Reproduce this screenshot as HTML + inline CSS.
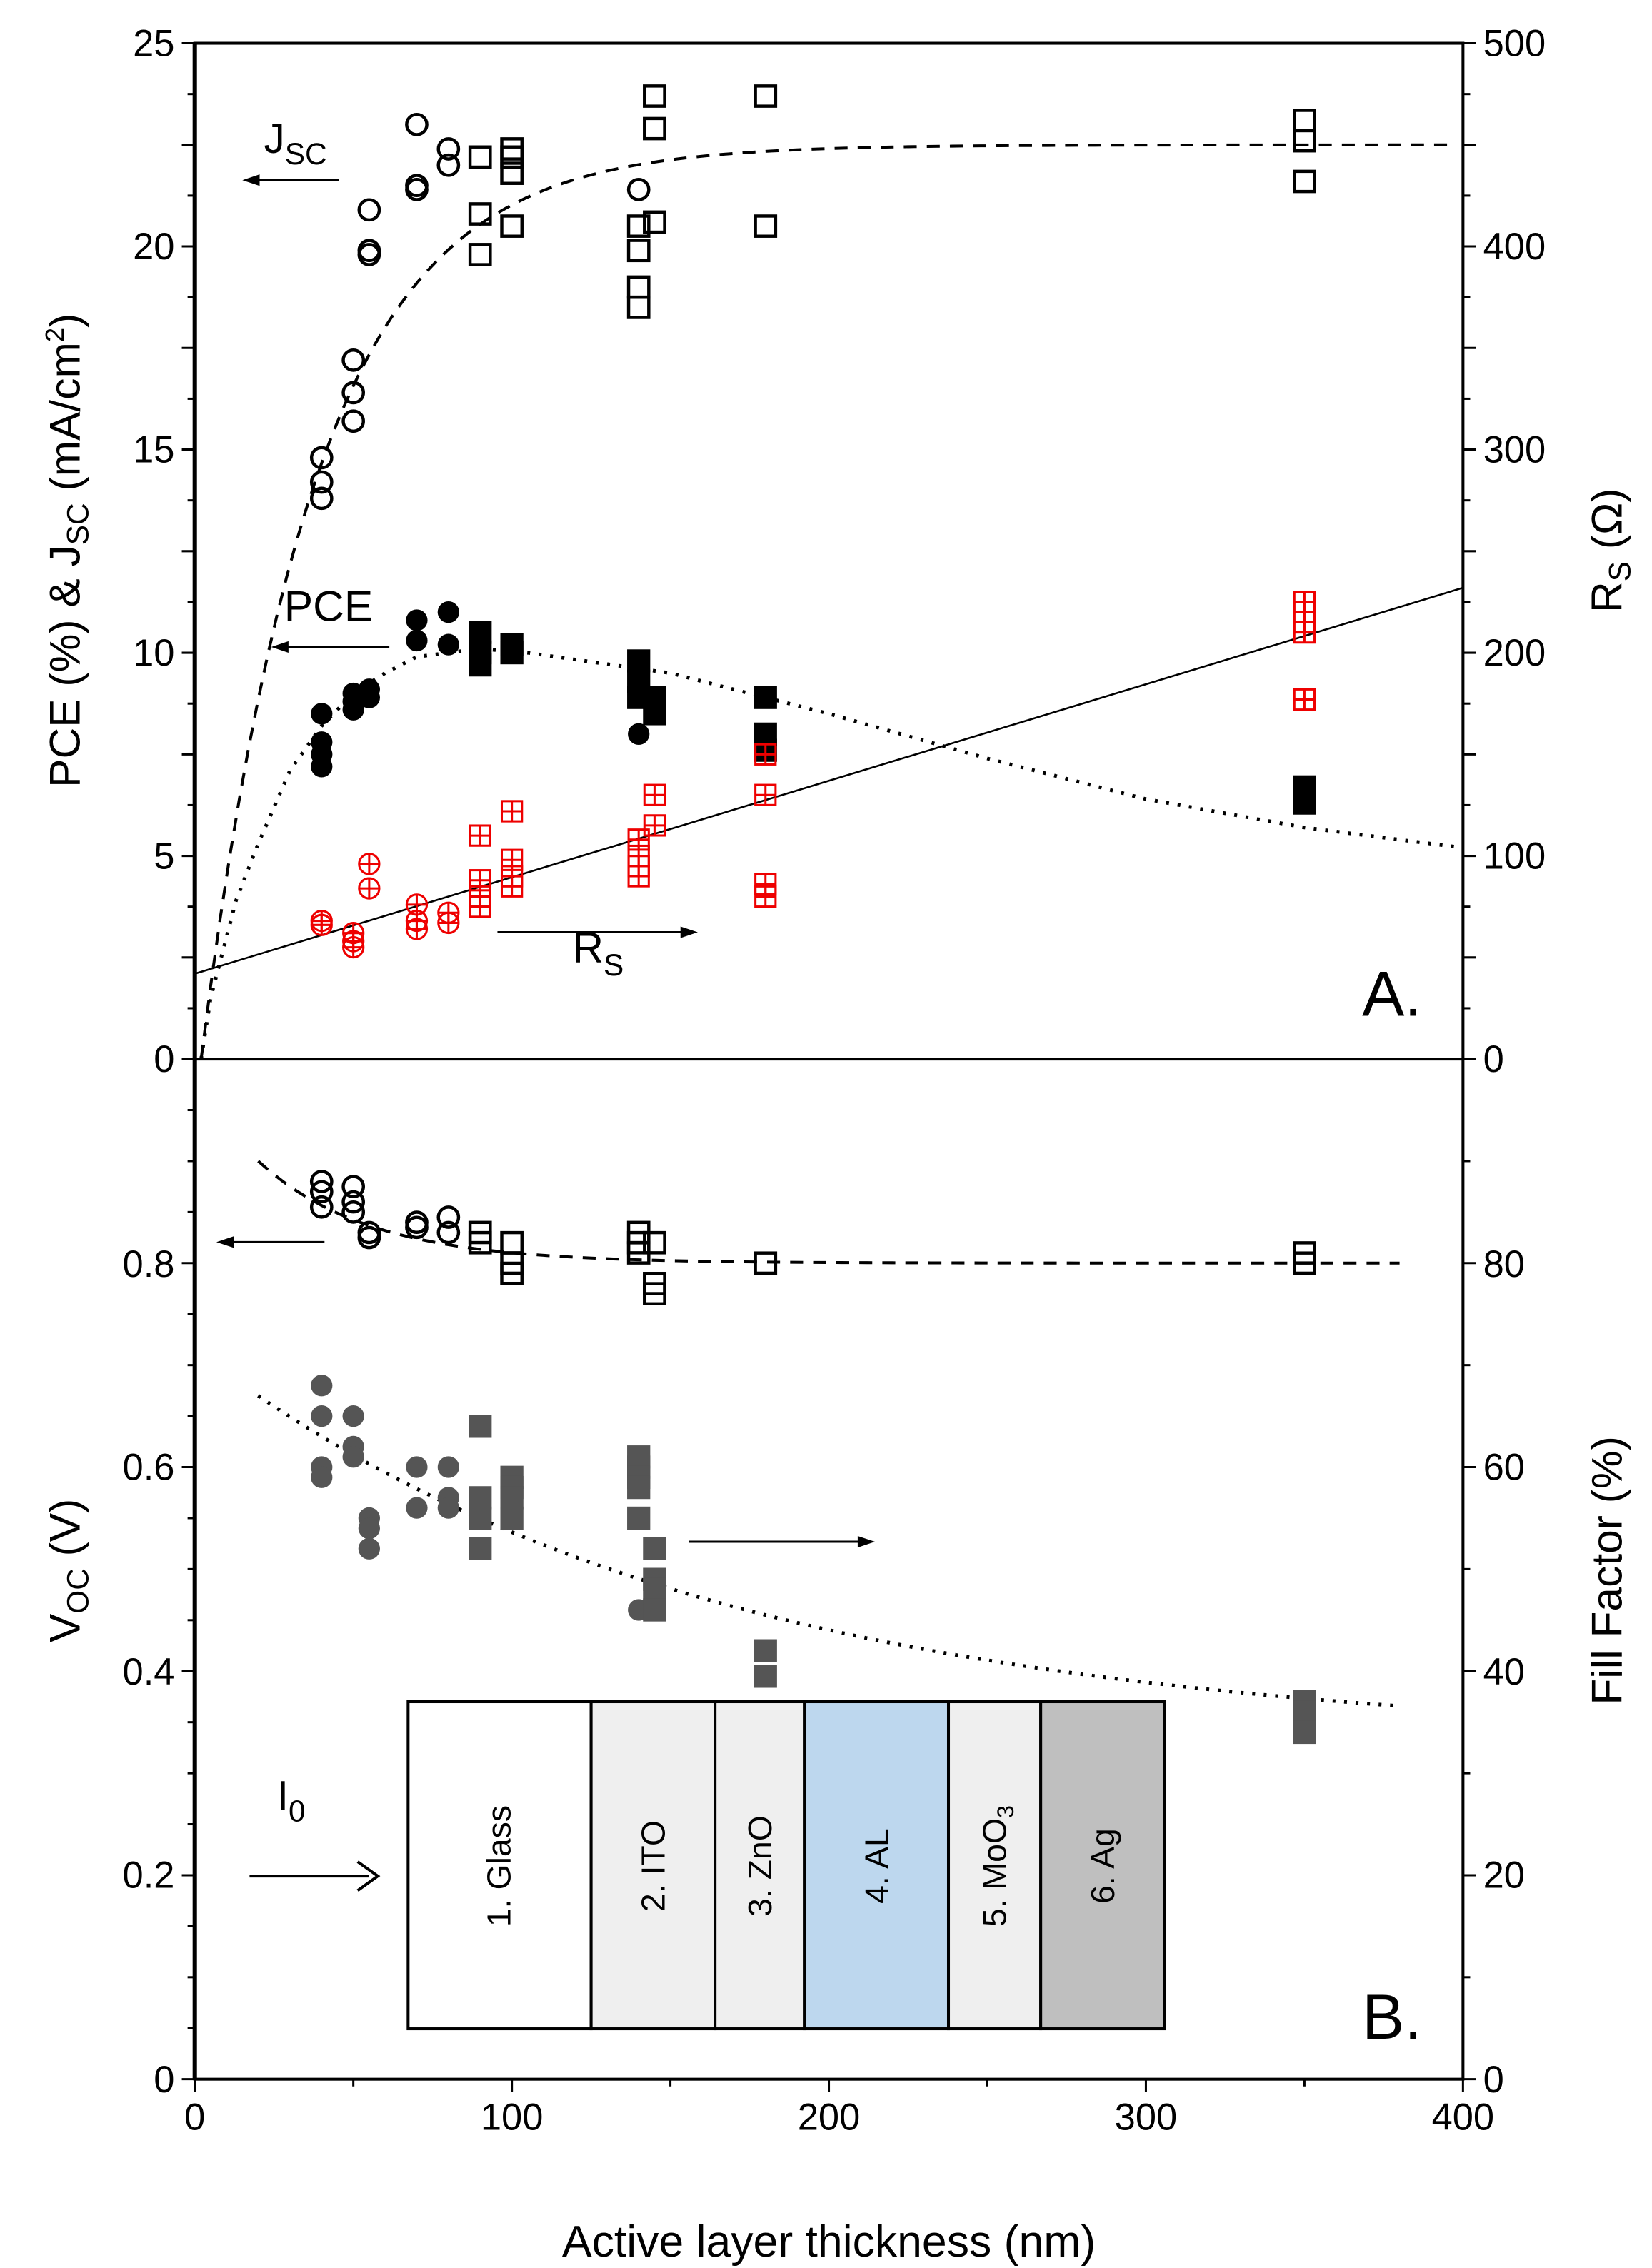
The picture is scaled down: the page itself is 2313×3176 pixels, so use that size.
<!DOCTYPE html>
<html><head><meta charset="utf-8"><style>
html,body{margin:0;padding:0;background:#fff}
svg{display:block}
text{font-family:"Liberation Sans",Arial,sans-serif;fill:#000}
</style></head><body>
<svg id="s" width="2313" height="3176" viewBox="0 0 1146 1574" xmlns="http://www.w3.org/2000/svg">
<rect width="1146" height="1574" fill="#fff"/>
<g id="g"></g>
<rect x="135" y="30" width="880" height="1413" fill="none" stroke="#000" stroke-width="2"/>
<line x1="135" y1="30" x2="135" y2="1443" stroke="#000" stroke-width="3"/>
<line x1="135" y1="735" x2="1015" y2="735" stroke="#000" stroke-width="2"/>
<g font-size="26" text-anchor="end">
<text x="121" y="39">25</text><text x="121" y="180">20</text><text x="121" y="321">15</text>
<text x="121" y="462">10</text><text x="121" y="603">5</text><text x="121" y="744">0</text>
<text x="121" y="886">0.8</text><text x="121" y="1027">0.6</text><text x="121" y="1169">0.4</text>
<text x="121" y="1310">0.2</text><text x="121" y="1452">0</text>
</g>
<g font-size="26" text-anchor="start">
<text x="1029" y="39">500</text><text x="1029" y="180">400</text><text x="1029" y="321">300</text>
<text x="1029" y="462">200</text><text x="1029" y="603">100</text><text x="1029" y="744">0</text>
<text x="1029" y="886">80</text><text x="1029" y="1027">60</text><text x="1029" y="1169">40</text>
<text x="1029" y="1310">20</text><text x="1029" y="1452">0</text>
</g>
<g font-size="26" text-anchor="middle">
<text x="135" y="1478">0</text><text x="355" y="1478">100</text><text x="575" y="1478">200</text>
<text x="795" y="1478">300</text><text x="1015" y="1478">400</text>
</g>
<text x="575" y="1566" font-size="31" text-anchor="middle">Active layer thickness (nm)</text>
<text transform="translate(55,382) rotate(-90)" font-size="30" text-anchor="middle">PCE (%) &amp; J<tspan font-size="21" dy="6">SC</tspan><tspan dy="-6"> (mA/cm</tspan><tspan font-size="18" dy="-11">2</tspan><tspan dy="11">)</tspan></text>
<text transform="translate(1125,382) rotate(-90)" font-size="30" text-anchor="middle">R<tspan font-size="21" dy="6">S</tspan><tspan dy="-6"> (Ω)</tspan></text>
<text transform="translate(55,1090) rotate(-90)" font-size="30" text-anchor="middle">V<tspan font-size="21" dy="6">OC</tspan><tspan dy="-6"> (V)</tspan></text>
<text transform="translate(1125,1090) rotate(-90)" font-size="30" text-anchor="middle">Fill Factor (%)</text>
<text x="183" y="106" font-size="29">J<tspan font-size="21" dy="8">SC</tspan></text>
<text x="197" y="431" font-size="30">PCE</text>
<text x="397" y="668" font-size="30">R<tspan font-size="21" dy="9">S</tspan></text>
<text x="945" y="705" font-size="44">A.</text>
<text x="945" y="1415" font-size="44">B.</text>
<text x="192" y="1256" font-size="29">I<tspan font-size="21" dy="8">0</tspan></text>
<g stroke="#000" stroke-width="1.5">
<line x1="235" y1="125" x2="178" y2="125"/><line x1="270" y1="449" x2="198" y2="449"/>
<line x1="345" y1="647" x2="475" y2="647"/><line x1="225" y1="862" x2="160" y2="862"/>
<line x1="478" y1="1070" x2="598" y2="1070"/><line x1="173" y1="1302" x2="256" y2="1302" stroke-width="2"/>
</g>
<g fill="#000">
<polygon points="168,125 180,121 180,129"/><polygon points="188,449 200,445 200,453"/>
<polygon points="484,647 472,643 472,651"/><polygon points="150,862 162,858 162,866"/>
<polygon points="607,1070 595,1066 595,1074"/>
</g>
<polyline points="248,1292 262,1302 248,1312" fill="none" stroke="#000" stroke-width="2"/>
<g stroke="#000" stroke-width="2">
<rect x="283" y="1181" width="127" height="227" fill="#fff"/>
<rect x="410" y="1181" width="86" height="227" fill="#efefef"/>
<rect x="496" y="1181" width="62" height="227" fill="#efefef"/>
<rect x="558" y="1181" width="100" height="227" fill="#bdd7ee"/>
<rect x="658" y="1181" width="64" height="227" fill="#efefef"/>
<rect x="722" y="1181" width="86" height="227" fill="#bfbfbf"/>
</g>
<g font-size="23" text-anchor="middle">
<text transform="translate(354,1295) rotate(-90)">1. Glass</text>
<text transform="translate(461,1295) rotate(-90)">2. ITO</text>
<text transform="translate(535,1295) rotate(-90)">3. ZnO</text>
<text transform="translate(616,1295) rotate(-90)">4. AL</text>
<text transform="translate(698,1295) rotate(-90)">5. MoO<tspan font-size="16" dy="5">3</tspan></text>
<text transform="translate(773,1295) rotate(-90)">6. Ag</text>
</g>
</svg>
<script>
var g=document.getElementById('g'),NS='http://www.w3.org/2000/svg';
function el(t,a){var e=document.createElementNS(NS,t);for(var k in a)e.setAttribute(k,a[k]);g.appendChild(e);return e;}
function X(t){return 135+2.2*t}
function YT(v){return 30+(25-v)*28.2}
function YR(r){return 735-r*1.41}
function YB(v){return 1443-708*v}
for(var i=0;i<=20;i++){var y=30+i*35.25,L=i%2?5:9;el('line',{x1:135-L,y1:y,x2:135,y2:y,stroke:'#000','stroke-width':1.5});el('line',{x1:1015,y1:y,x2:1015+L,y2:y,stroke:'#000','stroke-width':1.5});}
for(var i=0;i<=20;i++){var y=735+i*35.4,L=i%4?5:9;el('line',{x1:135-L,y1:y,x2:135,y2:y,stroke:'#000','stroke-width':1.5});}
for(var i=0;i<=10;i++){var y=735+i*70.8,L=i%2?5:9;el('line',{x1:1015,y1:y,x2:1015+L,y2:y,stroke:'#000','stroke-width':1.5});}
for(var i=0;i<=8;i++){var x=135+i*110,L=i%2?5:9;el('line',{x1:x,y1:1443,x2:x,y2:1443+L,stroke:'#000','stroke-width':1.5});}
function pl(pts,dash,w){el('polyline',{points:pts.map(function(p){return p.join(',')}).join(' '),fill:'none',stroke:'#000','stroke-width':w||2,'stroke-dasharray':dash});}
var p=[];for(var t=2;t<=400;t+=3)p.push([X(t),YT(22.5*(1-Math.exp(-(t-2)/36)))]);pl(p,'9,7');
var d=[[2,0],[5,1.5],[13,3.9],[20,5.3],[30,7.1],[40,8.2],[50,9],[60,9.5],[70,9.9],[90,10.1],[105,10.0],[150,9.5],[200,8.5],[250,7.4],[300,6.4],[350,5.7],[400,5.2]];
pl(d.map(function(a){return[X(a[0]),YT(a[1])]}),'2,6',2.5);
el('line',{x1:X(0),y1:YR(42),x2:X(400),y2:YR(232),stroke:'#000','stroke-width':1.3});
var v=[];for(var t=20;t<=380;t+=4)v.push([X(t),YB(0.8+0.1*Math.exp(-(t-20)/35))]);pl(v,'9,7');
var f=[];for(var t=20;t<=380;t+=4)f.push([X(t),YB((33+34*Math.exp(-(t-20)/160))/100)]);pl(f,'2,6',2.5);
function oc(t,y){el('circle',{cx:X(t),cy:y,r:7,fill:'none',stroke:'#000','stroke-width':2.2})}
function os(t,y){el('rect',{x:X(t)-7,y:y-7,width:14,height:14,fill:'none',stroke:'#000','stroke-width':2.2})}
function fc(t,y,c){el('circle',{cx:X(t),cy:y,r:7.5,fill:c})}
function fs(t,y,c){el('rect',{x:X(t)-8,y:y-8,width:16,height:16,fill:c})}
function rc(t,y,sq){var x=X(t),s={fill:'none',stroke:'#e00','stroke-width':1.5};
 if(sq)el('rect',Object.assign({x:x-7,y:y-7,width:14,height:14},s));else el('circle',Object.assign({cx:x,cy:y,r:7},s));
 el('line',Object.assign({x1:x-7,y1:y,x2:x+7,y2:y},s));el('line',Object.assign({x1:x,y1:y-7,x2:x,y2:y+7},s));}
var J={40:[14.8,14.2,13.8],50:[17.2,16.4,15.7],55:[20.9,19.9,19.8],70:[23,21.5,21.4],80:[22.4,22]};
for(var k in J)J[k].forEach(function(a){oc(+k,YT(a))});oc(140,YT(21.4));
var JS={90:[22.2,20.8,19.8],100:[22.4,22.2,21.8,20.5],140:[20.5,19.9,19,18.5],145:[23.7,22.9,20.6],180:[23.7,20.5],350:[23.1,22.6,21.6]};
for(var k in JS)JS[k].forEach(function(a){os(+k,YT(a))});
var P={40:[8.5,7.8,7.5,7.2],50:[9,8.8,8.6],55:[9.1,8.9],70:[10.8,10.3],80:[11,10.2],140:[8]};
for(var k in P)P[k].forEach(function(a){fc(+k,YT(a),'#000')});
var PS={90:[10.5,10,9.7],100:[10.2,10],140:[9.8,9.3,8.9],145:[8.9,8.5],180:[8.9,8,7.6],350:[6.7,6.5,6.3]};
for(var k in PS)PS[k].forEach(function(a){fs(+k,YT(a),'#000')});
var R={40:[68,66],50:[62,58,55],55:[96,84],70:[76,68,64],80:[72,67]};
for(var k in R)R[k].forEach(function(a){rc(+k,YR(a),0)});
var RS={90:[110,88,80,75],100:[122,98,90,85],140:[108,100,95,90],145:[130,115],180:[150,130,86,80],350:[225,220,215,210,177]};
for(var k in RS)RS[k].forEach(function(a){rc(+k,YR(a),1)});
var V={40:[.88,.87,.855],50:[.875,.86,.85],55:[.83,.825],70:[.84,.835],80:[.845,.83]};
for(var k in V)V[k].forEach(function(a){oc(+k,YB(a))});
var VS={90:[.83,.82],100:[.82,.8,.79],140:[.83,.82,.81],145:[.82,.78,.77],180:[.8],350:[.81,.8]};
for(var k in VS)VS[k].forEach(function(a){os(+k,YB(a))});
var F={40:[68,65,60,59],50:[65,62,61],55:[55,54,52],70:[60,56],80:[60,57,56],140:[46]};
for(var k in F)F[k].forEach(function(a){fc(+k,YB(a/100),'#555')});
var FS={90:[64,57,55,52],100:[59,58,57,55],140:[61,60,59,58,55],145:[52,49,48,46],180:[42,39.5],350:[37,36,35,34]};
for(var k in FS)FS[k].forEach(function(a){fs(+k,YB(a/100),'#555')});
</script>
</body></html>
